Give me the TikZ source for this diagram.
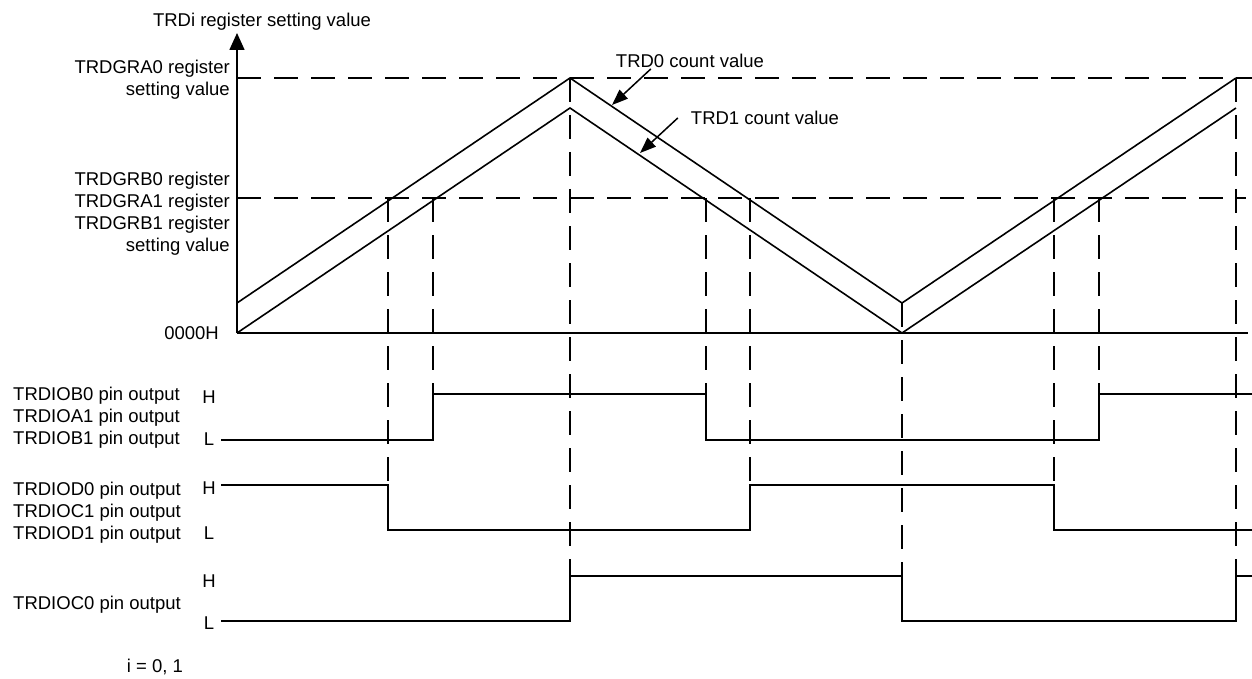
\documentclass[tikz,border=0pt]{standalone}
\usepackage{fontspec}
\setmainfont{Liberation Sans}
\usetikzlibrary{arrows.meta}

\begin{document}
\begin{tikzpicture}[x=1pt,y=-1pt]
		\tikzstyle{every node}=[inner sep=1pt,font=\fontsize{18.5}{22}\selectfont];
		\tikzstyle{guide}=[line width=1.6pt,dash pattern=on 24pt off 13pt];
		\tikzstyle{trace}=[line width=1.6pt];
		\tikzstyle{pointer}=[line width=1.5pt,-{Triangle[length=16pt,width=12pt]}];
		\useasboundingbox (0,0) rectangle (1252,679);
		\path (262,22)  node (title) {TRDi register setting value};
		\path (231,80)  node[anchor=east,align=right] (gra0) {TRDGRA0 register\\setting value};
		\path (231,214) node[anchor=east,align=right] (grb0) {TRDGRB0 register\\TRDGRA1 register\\TRDGRB1 register\\setting value};
		\path (220,333) node[anchor=east] (zero) {0000H};
		\path (12,418)  node[anchor=west,align=left] (pinb) {TRDIOB0 pin output\\TRDIOA1 pin output\\TRDIOB1 pin output};
		\path (12,513)  node[anchor=west,align=left] (pind) {TRDIOD0 pin output\\TRDIOC1 pin output\\TRDIOD1 pin output};
		\path (12,605)  node[anchor=west] (pinc) {TRDIOC0 pin output};
		\path (209,397) node (hb) {H};
		\path (209,439) node (lb) {L};
		\path (209,488) node (hd) {H};
		\path (209,533) node (ld) {L};
		\path (209,581) node (hc) {H};
		\path (209,623) node (lc) {L};
		\path (155,667) node (note) {i = 0, 1};
		\path (690,61)  node (cnt0) {TRD0 count value};
		\path (765,118) node (cnt1) {TRD1 count value};
		\coordinate (o)    at (237,333);
		\coordinate (tip)  at (237,33);
		\coordinate (tip0) at (612,105);
		\coordinate (tip1) at (640,153);
		\draw[guide] (237,78) -- (1252,78)
		(237,198) -- (1246,198);
		\draw[guide] (388,198) -- (388,485)
		(433,198) -- (433,394)
		(570,78) -- (570,576)
		(706,198) -- (706,394)
		(750,198) -- (750,485)
		(902,303) -- (902,576)
		(1054,198) -- (1054,485)
		(1099,198) -- (1099,394)
		(1236,78) -- (1236,576);
		\draw[trace,-{Triangle[length=17pt,width=15pt]}] (o) -- (tip);
		\draw[trace] (o) -- (1248,333);
		\draw[trace] (237,303) -- (570,78) -- (902,303) -- (1236,78);
		\draw[trace] (o) -- (570,108) -- (902,333) -- (1236,108);
		\draw[trace] (221,440) -- (433,440) -- (433,394) -- (706,394) -- (706,440) -- (1099,440) -- (1099,394) -- (1252,394);
		\draw[trace] (221,485) -- (388,485) -- (388,530) -- (750,530) -- (750,485) -- (1054,485) -- (1054,530) -- (1252,530);
		\draw[trace] (221,621) -- (570,621) -- (570,576) -- (902,576) -- (902,621) -- (1236,621) -- (1236,576) -- (1252,576);
		\draw[pointer] ([xshift=36pt]cnt0.south west) -- (tip0);
		\draw[pointer] ([xshift=-12pt]cnt1.west) -- (tip1);
\end{tikzpicture}
\end{document}
